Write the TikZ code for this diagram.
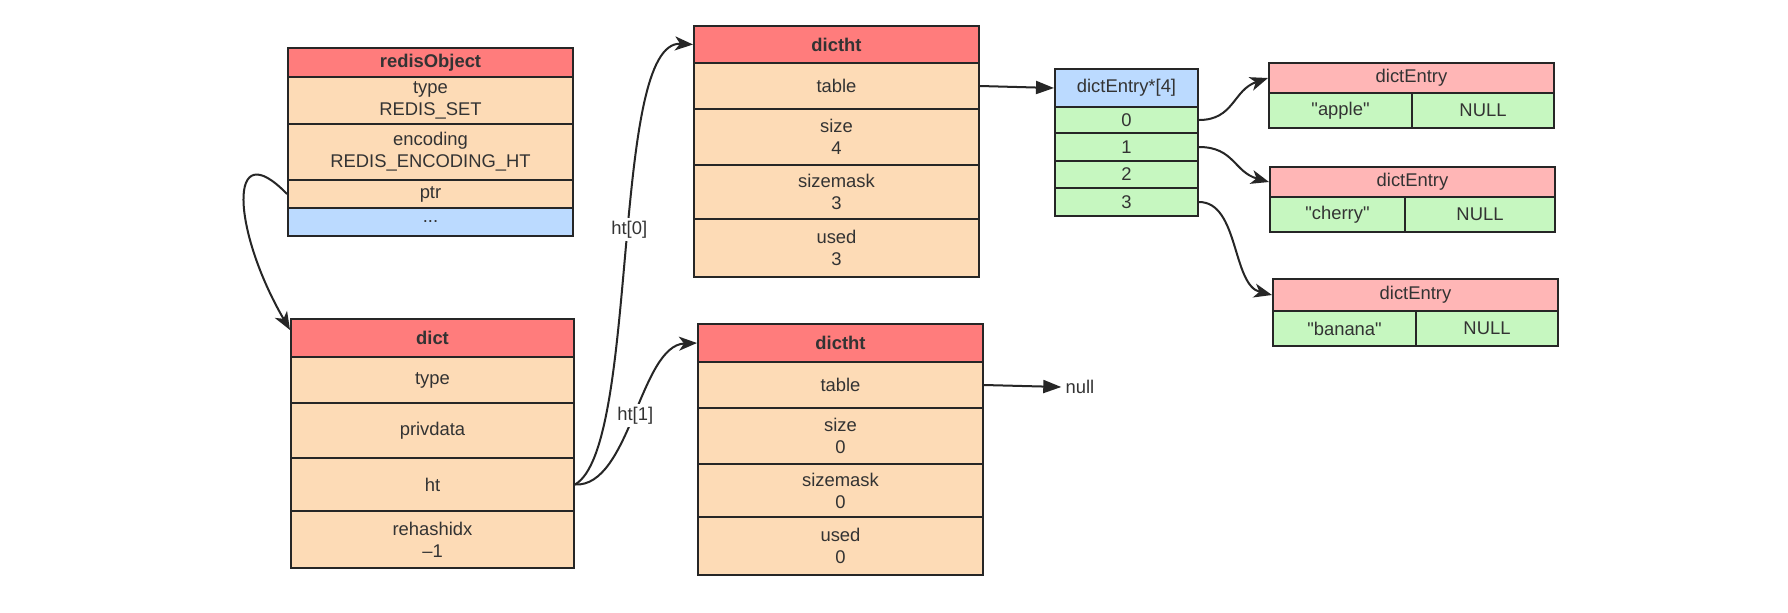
\documentclass[tikz,border=0pt]{standalone}
\usepackage{fontspec}
\setmainfont{Liberation Sans}[Ligatures=TeXOff]
\usetikzlibrary{arrows.meta}
\definecolor{hred}{HTML}{FF7C7C}
\definecolor{peach}{HTML}{FDDBB6}
\definecolor{lblue}{HTML}{BBDAFF}
\definecolor{lgreen}{HTML}{C6F7C0}
\definecolor{lpink}{HTML}{FFB6B6}
\definecolor{linec}{HTML}{262626}
\definecolor{txt}{HTML}{333333}
\newcommand\mycell[7]{%
  \pgfmathsetmacro\mycw{((#4)-(#2))*0.5}%
  \pgfmathsetmacro\mych{((#5)-(#3))*0.5}%
  \node[#6, minimum width=\mycw pt, minimum height=\mych pt] (#1) at ({((#2)+(#4))/2},{((#3)+(#5))/2}) {#7};}
\tikzset{
  cell/.style={draw=linec, line width=1pt, inner sep=0pt, align=center, text=txt, font=\fontsize{9.2}{11}\selectfont},
  hdr/.style={cell, fill=hred, font=\fontsize{9.2}{11}\selectfont\bfseries},
  body/.style={cell, fill=peach},
  bluecell/.style={cell, fill=lblue},
  greencell/.style={cell, fill=lgreen},
  pinkcell/.style={cell, fill=lpink},
  conn/.style={draw=linec, line width=1pt, -{Stealth[length=9pt,width=7pt,inset=2.5pt]}},
  sconn/.style={draw=linec, line width=1pt, -{Triangle[length=9pt,width=6.5pt]}},
  lbl/.style={fill=white, inner sep=1.5pt, text=txt, font=\fontsize{9.2}{11}\selectfont},
  plain/.style={inner sep=2pt, text=txt, font=\fontsize{9.2}{11}\selectfont}
}
\begin{document}
\begin{tikzpicture}[x=0.5pt,y=-0.5pt]
\useasboundingbox[fill=white] (0,0) rectangle (1788,612);
% redisObject
\mycell{ro0}{288}{48}{573}{77}{hdr}{redisObject}
\mycell{ro1}{288}{77}{573}{124}{body}{type\\REDIS\_SET}
\mycell{ro2}{288}{124}{573}{180}{body}{encoding\\REDIS\_ENCODING\_HT}
\mycell{ro3}{288}{180}{573}{208}{body}{ptr}
\mycell{ro4}{288}{208}{573}{236}{bluecell}{...}
% dict
\mycell{d0}{291}{319}{574}{357}{hdr}{dict}
\mycell{d1}{291}{357}{574}{403}{body}{type}
\mycell{d2}{291}{403}{574}{458}{body}{privdata}
\mycell{d3}{291}{458}{574}{511}{body}{ht}
\mycell{d4}{291}{511}{574}{568}{body}{rehashidx\\\textendash1}
% dictht top
\mycell{t0}{694}{26}{979}{63}{hdr}{dictht}
\mycell{t1}{694}{63}{979}{109}{body}{table}
\mycell{t2}{694}{109}{979}{165}{body}{size\\4}
\mycell{t3}{694}{165}{979}{219}{body}{sizemask\\3}
\mycell{t4}{694}{219}{979}{277}{body}{used\\3}
% dictht bottom
\mycell{b0}{698}{324}{983}{362}{hdr}{dictht}
\mycell{b1}{698}{362}{983}{408}{body}{table}
\mycell{b2}{698}{408}{983}{464}{body}{size\\0}
\mycell{b3}{698}{464}{983}{517}{body}{sizemask\\0}
\mycell{b4}{698}{517}{983}{575}{body}{used\\0}
% dictEntry*[4]
\mycell{a0}{1055}{69}{1198}{107}{bluecell}{dictEntry*[4]}
\mycell{a1}{1055}{107}{1198}{133}{greencell}{0}
\mycell{a2}{1055}{133}{1198}{161}{greencell}{1}
\mycell{a3}{1055}{161}{1198}{188}{greencell}{2}
\mycell{a4}{1055}{188}{1198}{216}{greencell}{3}
% dictEntry nodes
\mycell{e1h}{1269}{63}{1554}{93}{pinkcell}{dictEntry}
\mycell{e1k}{1269}{93}{1412}{128}{greencell}{"apple"}
\mycell{e1v}{1412}{93}{1554}{128}{greencell}{NULL}
\mycell{e2h}{1270}{167}{1555}{197}{pinkcell}{dictEntry}
\mycell{e2k}{1270}{197}{1405}{232}{greencell}{"cherry"}
\mycell{e2v}{1405}{197}{1555}{232}{greencell}{NULL}
\mycell{e3h}{1273}{279}{1558}{311}{pinkcell}{dictEntry}
\mycell{e3k}{1273}{311}{1416}{346}{greencell}{"banana"}
\mycell{e3v}{1416}{311}{1558}{346}{greencell}{NULL}
% null
\node[plain] (null) at (1080,387) {null};
% connectors
\draw[sconn] (t1.east) -- (a0.west);
\draw[sconn] (b1.east) -- (null.west);
\draw[conn] (ro3.west) .. controls +(-60,-62) and +(-58,-100) .. ([yshift=4pt]d0.west);
\draw[conn] (d3.east) .. controls +(65,-37) and +(-83,-5) .. (t0.west) node[lbl, pos=0.53] {ht[0]};
\draw[conn] (d3.east) .. controls +(55,3) and +(-57,2) .. (b0.west) node[lbl, pos=0.5] {ht[1]};
\draw[conn] (a1.east) .. controls +(35,0) and +(-35,12) .. (e1h.west);
\draw[conn] (a2.east) .. controls +(35,0) and +(-35,-10) .. (e2h.west);
\draw[conn] (a4.east) .. controls +(40,0) and +(-40,-10) .. (e3h.west);
\end{tikzpicture}
\end{document}
